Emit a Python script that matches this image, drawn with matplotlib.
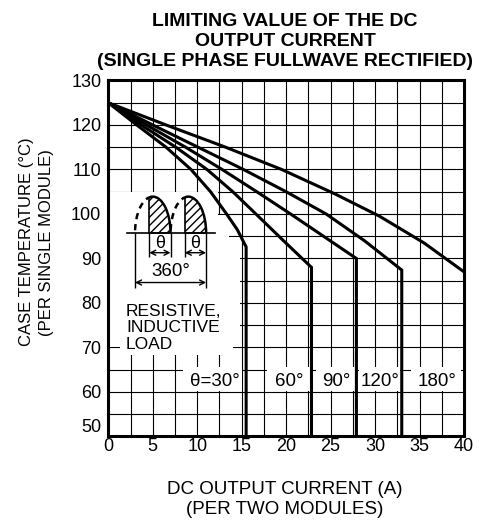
# limiting value of the dc output current - derating curves
import numpy as np
import matplotlib.pyplot as plt
from matplotlib.patches import Polygon, Rectangle, Ellipse, Arc

plt.rcParams['font.family'] = ['Liberation Sans', 'DejaVu Sans']

# curves: (current A, case temperature C), knee then straight down
current_30 = [0, 3.2, 6.5, 9.3, 11.5, 13.3, 14.5, 15.5, 15.5]
temp_30 = [125, 120, 115, 110, 105, 100, 96.5, 92.6, 50]

current_60 = [0, 3.7, 7.6, 11.1, 14.0, 16.6, 19.7, 22.85, 22.85]
temp_60 = [125, 120, 115, 110, 105, 100, 94, 88, 50]

current_90 = [0, 4.3, 8.7, 12.8, 16.7, 20.5, 24.2, 27.9, 27.9]
temp_90 = [125, 120, 115, 110, 105, 100, 95, 90, 50]

current_120 = [0, 5.0, 10.1, 15.2, 20.0, 24.5, 28.8, 33.0, 33.0]
temp_120 = [125, 120, 115, 110, 105, 100, 94, 87.4, 50]

current_180 = [0, 6.5, 13.2, 19.5, 25.5, 30.5, 35.5, 40]
temp_180 = [125, 120, 115, 110, 104.5, 99.5, 93.5, 87]

angle_labels = ['θ=30°', '60°', '90°', '120°', '180°']
x_ticks = [0, 5, 10, 15, 20, 25, 30, 35, 40]
y_ticks = [50, 60, 70, 80, 90, 100, 110, 120, 130]

fig = plt.figure(figsize=(4.79, 5.23), dpi=100)
ax = fig.add_axes([0.2261, 0.1654, 0.7426, 0.6807])

ax.set_xlim(0, 40)
ax.set_ylim(50, 130)
ax.set_xticks(x_ticks, labels=[str(v) for v in x_ticks])
ax.set_xticks(np.arange(2.5, 40, 5), minor=True)
ax.set_yticks(y_ticks, labels=[str(v) for v in y_ticks])
ax.set_yticks(np.arange(55, 130, 10), minor=True)
ax.tick_params(which='both', length=0)
ax.tick_params(axis='x', pad=1, labelsize=13)
ax.tick_params(axis='y', pad=5, labelsize=13)
ax.get_yticklabels()[0].set_verticalalignment('bottom')
ax.grid(True, which='both', color='black', lw=0.8)
ax.set_axisbelow(True)
for s in ax.spines.values():
    s.set_linewidth(2.2)

# white area behind the inset sketch
blank = [(0, 104.85), (12.35, 104.85), (12.35, 99.85), (13.6, 99.85), (13.6, 94.85),
         (14.85, 94.85), (14.85, 70.15), (14, 70.15), (14, 68.4), (1.3, 68.4),
         (1.3, 70.15), (0, 70.15)]
ax.add_patch(Polygon(blank, closed=True, facecolor='white', edgecolor='none', zorder=1))

# curves
curves = [(current_30, temp_30), (current_60, temp_60), (current_90, temp_90),
          (current_120, temp_120), (current_180, temp_180)]
for cur, tmp in curves:
    ax.plot(cur, tmp, color='black', lw=2.2, zorder=4, solid_joinstyle='miter')

# angle labels at the bottom with white boxes
box_x = [(8.4, 15.0), (17.9, 22.7), (23.3, 27.8), (28.2, 32.8), (34.0, 39.7)]
label_x = [12.0, 20.4, 25.6, 30.6, 37.0]
for (x0, x1), lx, txt in zip(box_x, label_x, angle_labels):
    ax.add_patch(Rectangle((x0, 60.15), x1 - x0, 5.45, facecolor='white',
                           edgecolor='none', zorder=1))
    ax.text(lx, 62.4, txt, fontsize=13.5, ha='center', va='center', zorder=3)

# waveform sketch
base = 95.7
ax.plot([2.07, 12.0], [base, base], color='black', lw=1.2, zorder=3)
for cx, hs in [(5.0, 4.6), (9.0, 8.6)]:
    ell = Ellipse((cx, base), 4.0, 16.4, transform=ax.transData)
    hatch = Rectangle((hs, base), cx + 2 - hs, 10, facecolor='none', edgecolor='black',
                      hatch='////', lw=1.2, zorder=3)
    ax.add_patch(hatch)
    hatch.set_clip_path(ell)
    solid = Arc((cx, base), 4.0, 16.4, theta1=0, theta2=180, color='black', lw=1.8, zorder=3)
    ax.add_patch(solid)
    solid.set_clip_path(Rectangle((hs, 90), 3, 20, transform=ax.transData))
    dashed = Arc((cx, base), 4.0, 16.4, theta1=0, theta2=180, color='black', lw=1.8,
                 linestyle=(0, (2.5, 2)), zorder=3)
    ax.add_patch(dashed)
    dashed.set_clip_path(Rectangle((cx - 2.1, 90), hs - cx + 2.1, 20, transform=ax.transData))

ax.vlines([3.0, 11.0], 83.3, base, color='black', lw=1, zorder=3)
ax.vlines([4.6, 7.0, 8.6], 90.4, base, color='black', lw=1, zorder=3)
arrow = dict(arrowstyle='<->', lw=1, shrinkA=0, shrinkB=0, mutation_scale=9, color='black')
ax.annotate('', xy=(4.6, 91.3), xytext=(7.0, 91.3), arrowprops=arrow, zorder=3)
ax.annotate('', xy=(8.6, 91.3), xytext=(11.0, 91.3), arrowprops=arrow, zorder=3)
ax.annotate('', xy=(3.0, 84.6), xytext=(11.0, 84.6), arrowprops=arrow, zorder=3)
ax.text(5.8, 93.4, 'θ', fontsize=13, ha='center', va='center', zorder=3)
ax.text(9.8, 93.4, 'θ', fontsize=13, ha='center', va='center', zorder=3)
ax.text(7.0, 87.0, '360°', fontsize=13.5, ha='center', va='center', zorder=3)
ax.text(2.0, 74.4, 'RESISTIVE,\nINDUCTIVE\nLOAD', fontsize=12.5, ha='left', va='center',
        linespacing=1.1, zorder=3)

fig.text(0.595, 0.9207, 'LIMITING VALUE OF THE DC\nOUTPUT CURRENT\n(SINGLE PHASE FULLWAVE RECTIFIED)',
         ha='center', va='center', fontsize=14, fontweight='bold', linespacing=1.2)
fig.text(0.0762, 0.537, 'CASE TEMPERATURE (°C)\n(PER SINGLE MODULE)', rotation=90,
         ha='center', va='center', fontsize=12, linespacing=1.35)
fig.text(0.595, 0.0449, 'DC OUTPUT CURRENT (A)\n(PER TWO MODULES)', ha='center', va='center',
         fontsize=13.5, linespacing=1.2)

fig.savefig('out.png', dpi=100)
